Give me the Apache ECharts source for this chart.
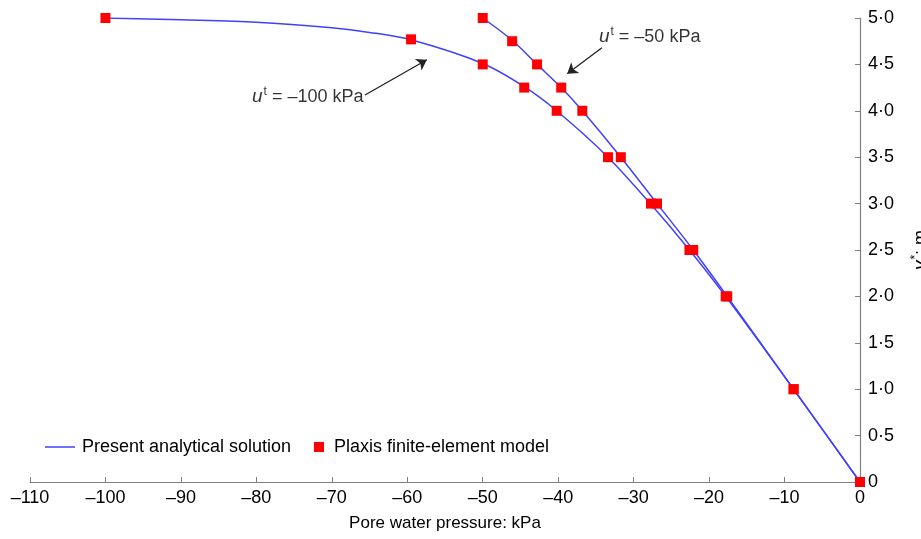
<!DOCTYPE html>
<html>
<head>
<meta charset="utf-8">
<script src="https://cdn.jsdelivr.net/npm/echarts@6/dist/echarts.min.js"></script>
<style>
  html, body { margin: 0; padding: 0; background: #fff; }
  #main { width: 921px; height: 539px; }
</style>
</head>
<body>
<div id="main"></div>
<script>
// analytical solution, u_t = -100 kPa
var curve100 = [
  [-100, 5.0], [-90, 4.98], [-80, 4.955], [-70, 4.895], [-65, 4.845], [-59.5, 4.765],
  [-50, 4.51], [-44.5, 4.26], [-40.2, 4.0], [-33.4, 3.5], [-27.8, 3.0],
  [-22.6, 2.5], [-17.8, 2.0], [-8.8, 1.0], [0, 0]
]
// analytical solution, u_t = -50 kPa
var curve50 = [
  [-50, 5.0], [-46.1, 4.76], [-42.8, 4.5], [-39.6, 4.25], [-36.8, 4.0],
  [-31.7, 3.5], [-26.9, 3.0], [-22.1, 2.5], [-17.6, 2.0], [-8.8, 1.0], [0, 0]
]
// Plaxis points
var plaxis100 = [
  [-100, 5.0], [-59.5, 4.77], [-50, 4.5], [-44.5, 4.25], [-40.2, 4.0],
  [-33.4, 3.5], [-27.7, 3.0], [-22.6, 2.5], [-17.8, 2.0], [-8.8, 1.0], [0, 0]
]
var plaxis50 = [
  [-50, 5.0], [-46.1, 4.75], [-42.8, 4.5], [-39.6, 4.25], [-36.8, 4.0],
  [-31.7, 3.5], [-26.9, 3.0], [-22.1, 2.5], [-17.6, 2.0], [-8.8, 1.0], [0, 0]
]
// arrows: [tail, head]
var arrow100 = [[-65.6, 4.17], [-57.4, 4.55]]
var arrow50 = [[-34.2, 4.68], [-38.8, 4.40]]
// annotation anchors
var label100 = [-65.8, 4.15]
var label50 = [-34.6, 4.80]

var font = 'Liberation Sans, Arial, sans-serif'
var blue = '#4040ff'
var red = '#ff0000'
var grey = '#808080'

var richLabel = {
  i: { fontStyle: 'italic', fontSize: 19, color: '#000', fontFamily: font },
  s: { fontSize: 12, color: '#000', fontFamily: font, padding: [0, 0, 10, 1] },
  n: { fontSize: 18, color: '#000', fontFamily: font }
}

var chart = echarts.init(document.getElementById('main'))
var option = {
  animation: false,
  textStyle: { fontFamily: font },
  grid: { left: 30, right: 61, top: 18, bottom: 57, containLabel: false, outerBoundsMode: 'none' },
  legend: [{
    left: 40, top: 433,
    itemWidth: 30, itemHeight: 10,
    textStyle: { fontSize: 18, color: '#000', fontFamily: font, padding: [0, 0, 0, 2] },
    data: [{ name: 'Present analytical solution', icon: 'path://M0,4L30,4L30,5.5L0,5.5Z' }]
  }, {
    left: 309, top: 433,
    itemWidth: 10, itemHeight: 10,
    textStyle: { fontSize: 18, color: '#000', fontFamily: font, padding: [0, 0, 0, 5] },
    data: [{ name: 'Plaxis finite-element model', icon: 'rect' }]
  }],
  xAxis: {
    type: 'value', min: -110, max: 0, interval: 10,
    name: 'Pore water pressure: kPa',
    nameLocation: 'middle', nameGap: 33,
    nameTextStyle: { fontSize: 17, color: '#000' },
    axisLine: { onZero: false, lineStyle: { color: grey, width: 1.2 } },
    axisTick: { inside: true, length: 5, lineStyle: { color: grey } },
    axisLabel: {
      fontSize: 18, color: '#000', margin: 7,
      formatter: function (v) { return v < 0 ? '–' + Math.abs(v) : String(v) }
    },
    splitLine: { show: false }
  },
  yAxis: {
    type: 'value', min: 0, max: 5, interval: 0.5, position: 'right',
    name: '{i|y}{s|*}{n|: m}',
    nameLocation: 'middle', nameGap: 50, nameRotate: 90,
    nameTextStyle: { rich: richLabel },
    axisLine: { onZero: false, lineStyle: { color: grey, width: 1.2 } },
    axisTick: { inside: true, length: 5, lineStyle: { color: grey } },
    axisLabel: {
      fontSize: 18, color: '#000', margin: 8,
      formatter: function (v) { return v === 0 ? '0' : v.toFixed(1).replace('.', '·') }
    },
    splitLine: { show: false }
  },
  series: [{
    name: 'Present analytical solution', type: 'line', data: curve100,
    smooth: 0.3, symbol: 'none', lineStyle: { color: blue, width: 1.5 },
    itemStyle: { color: blue },
    markLine: {
      silent: true, symbol: ['none', 'arrow'], symbolSize: 10,
      lineStyle: { color: '#222', width: 1.3, type: 'solid' }, label: { show: false },
      data: [[{ coord: arrow100[0] }, { coord: arrow100[1] }], [{ coord: arrow50[0] }, { coord: arrow50[1] }]]
    }
  }, {
    name: 'Present analytical solution', type: 'line', data: curve50,
    smooth: 0.3, symbol: 'none', lineStyle: { color: blue, width: 1.5 },
    itemStyle: { color: blue }
  }, {
    name: 'Plaxis finite-element model', type: 'scatter', data: plaxis100,
    symbol: 'rect', symbolSize: 10, itemStyle: { color: red, opacity: 1 }, z: 5
  }, {
    name: 'Plaxis finite-element model', type: 'scatter', data: plaxis50,
    symbol: 'rect', symbolSize: 10, itemStyle: { color: red, opacity: 1 }, z: 5
  }, {
    name: 'notes', type: 'scatter', symbolSize: 0, silent: true,
    data: [
      { value: label100, label: { show: true, position: 'left', distance: 0, formatter: '{i|u}{s|t}{n| = –100 kPa}', rich: richLabel } },
      { value: label50, label: { show: true, position: 'right', distance: 0, formatter: '{i|u}{s|t}{n| = –50 kPa}', rich: richLabel } }
    ]
  }]
}
chart.setOption(option)
</script>
</body>
</html>
